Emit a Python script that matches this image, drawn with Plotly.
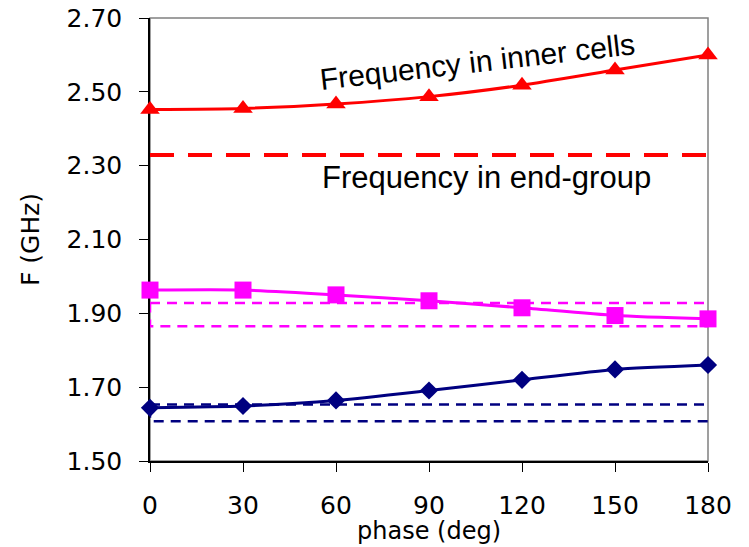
import plotly.graph_objects as go

phase = [0, 30, 60, 90, 120, 150, 180]
f_inner = [2.452, 2.455, 2.467, 2.487, 2.518, 2.559, 2.600]
f_end_group = 2.329
f_magenta = [1.963, 1.963, 1.950, 1.934, 1.915, 1.894, 1.885]
magenta_band = [1.865, 1.928]
f_navy = [1.644, 1.649, 1.664, 1.691, 1.720, 1.748, 1.760]
navy_band = [1.608, 1.653]
y_ticks = [1.50, 1.70, 1.90, 2.10, 2.30, 2.50, 2.70]

AXFONT = "DejaVu Sans, Verdana, sans-serif"
TXFONT = "Liberation Sans, Arial, sans-serif"
fig = go.Figure()

def band(lo, hi, color):
    x0, x1 = phase[0], phase[-1] + 0.5
    fig.add_trace(go.Scatter(x=[x0, x1, x1, x0, x0], y=[hi, hi, lo, lo, hi], mode="lines",
                             line=dict(color=color, width=2.5, dash="10px,7px"),
                             hoverinfo="skip", showlegend=False, cliponaxis=False))

band(magenta_band[0], magenta_band[1], "#FF00FF")
band(navy_band[0], navy_band[1], "#000080")

fig.add_trace(go.Scatter(x=[phase[0], phase[-1]], y=[f_end_group, f_end_group], mode="lines",
                         line=dict(color="#FF0000", width=4, dash="24px,14px"),
                         showlegend=False, cliponaxis=False))

fig.add_trace(go.Scatter(x=phase, y=f_inner, mode="lines+markers",
                         line=dict(color="#FF0000", width=3, shape="spline", smoothing=0.6),
                         marker=dict(symbol="triangle-up", size=17, color="#FF0000"),
                         showlegend=False, cliponaxis=False))
fig.add_trace(go.Scatter(x=phase, y=f_magenta, mode="lines+markers",
                         line=dict(color="#FF00FF", width=3, shape="spline", smoothing=0.6),
                         marker=dict(symbol="square", size=17, color="#FF00FF"),
                         showlegend=False, cliponaxis=False))
fig.add_trace(go.Scatter(x=phase, y=f_navy, mode="lines+markers",
                         line=dict(color="#000080", width=3, shape="spline", smoothing=0.6),
                         marker=dict(symbol="diamond", size=14, color="#000080"),
                         showlegend=False, cliponaxis=False))

fig.add_shape(type="rect", xref="paper", yref="paper", x0=0, x1=1, y0=0, y1=1,
              line=dict(color="#808080", width=1.5), layer="below")

fig.add_annotation(text="Frequency in inner cells", x=105.8, y=2.581, xref="x", yref="y",
                   showarrow=False, textangle=-6.5, font=dict(family=TXFONT, size=30, color="black"))
fig.add_annotation(text="Frequency in end-group", x=108.7, y=2.269, xref="x", yref="y",
                   showarrow=False, font=dict(family=TXFONT, size=31, color="black"))
# x-axis title
fig.add_annotation(text="phase (deg)", x=0.5, y=-0.122, xref="paper", yref="paper",
                   xanchor="center", yanchor="top", showarrow=False,
                   font=dict(family=AXFONT, size=24, color="black"))

fig.update_layout(
    width=749, height=547,
    margin=dict(l=150, r=41, t=18, b=86),
    paper_bgcolor="white", plot_bgcolor="white",
    font=dict(family=AXFONT, size=25, color="black"),
)
fig.update_xaxes(range=[0, 180], tickvals=phase, showgrid=False, zeroline=False, automargin=False,
                 showline=True, linecolor="black", linewidth=1.5, layer="below traces",
                 ticks="outside", ticklen=9, tickcolor="black",
                 tickfont=dict(family=AXFONT, size=25), ticklabelstandoff=12)
fig.update_yaxes(range=[1.5, 2.7], tickvals=y_ticks, tickformat=".2f", showgrid=False, zeroline=False,
                 automargin=False,
                 showline=True, linecolor="black", linewidth=1.5, layer="below traces",
                 ticks="outside", ticklen=9, tickcolor="black",
                 tickfont=dict(family=AXFONT, size=25), ticklabelstandoff=12,
                 title=dict(text="F (GHz)", font=dict(family=AXFONT, size=25), standoff=20))

fig.write_html("out.html")
